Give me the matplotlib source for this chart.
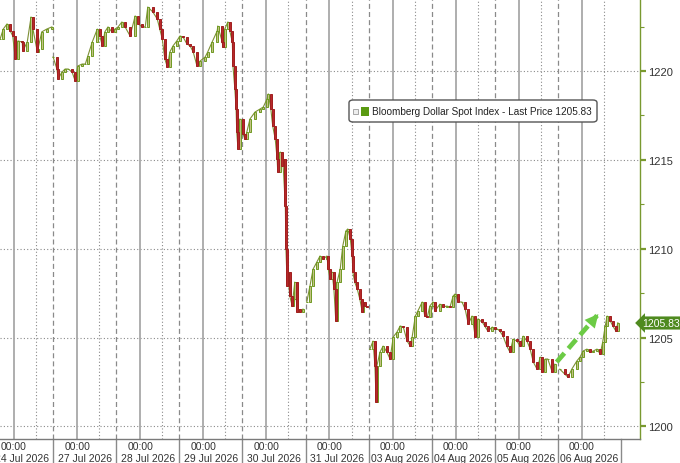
import matplotlib.pyplot as plt
from matplotlib.patches import FancyBboxPatch, Rectangle
from matplotlib.transforms import blended_transform_factory
import numpy as np

plt.rcParams['font.family'] = ['Liberation Sans', 'DejaVu Sans']

# trading-day index (0 = 24 Jul 00:00), one list of closes per session
s1_days = [-0.22, -0.17, -0.11, -0.06, -0.02, 0.02, 0.06, 0.13, 0.14, 0.21, 0.27, 0.30,
           0.37, 0.38, 0.44, 0.52, 0.60]
s1_close = [1221.80, 1222.36, 1222.65, 1222.25, 1221.97, 1220.68, 1221.69, 1221.63, 1221.13,
            1221.63, 1223.04, 1222.36, 1221.07, 1221.24, 1222.20, 1222.36, 1222.48]

s2_days = [0.62, 0.68, 0.70, 0.76, 0.81, 0.86, 0.92, 0.97, 1.01, 1.08, 1.13, 1.17, 1.24, 1.32,
           1.36, 1.40, 1.44, 1.49, 1.55, 1.60, 1.65, 1.71, 1.76, 1.84, 1.92, 1.97, 2.03, 2.08,
           2.12, 2.20, 2.27, 2.31, 2.35, 2.39, 2.43, 2.47, 2.52, 2.58, 2.63, 2.68, 2.74, 2.79,
           2.84, 2.90, 2.95, 3.03, 3.07, 3.14, 3.22, 3.23, 3.30, 3.31, 3.34, 3.39, 3.42, 3.46,
           3.47, 3.50, 3.52, 3.53, 3.55, 3.58, 3.63, 3.66, 3.69, 3.74, 3.82, 3.90, 3.95, 4.01,
           4.03, 4.07, 4.10, 4.14, 4.17, 4.18, 4.22, 4.25, 4.26, 4.30, 4.31, 4.33, 4.34, 4.37,
           4.41, 4.42, 4.45, 4.49, 4.50, 4.53, 4.58]
s2_close = [1220.79, 1220.11, 1219.55, 1219.94, 1220.11, 1220.11, 1219.94, 1219.44, 1220.28,
            1220.39, 1220.39, 1220.84, 1221.63, 1222.36, 1221.97, 1221.41, 1222.20, 1222.48,
            1222.20, 1222.36, 1222.48, 1222.76, 1222.48, 1221.97, 1223.10, 1222.65, 1222.48,
            1222.48, 1223.60, 1223.32, 1222.93, 1222.36, 1221.80, 1220.68, 1220.23, 1221.07,
            1221.41, 1221.69, 1221.97, 1221.91, 1221.52, 1221.41, 1221.07, 1220.28, 1220.56,
            1220.79, 1221.07, 1221.63, 1222.25, 1222.53, 1221.63, 1221.35, 1222.36, 1222.76,
            1222.25, 1221.63, 1220.28, 1218.99, 1217.86, 1216.57, 1215.61, 1217.30, 1216.45,
            1216.17, 1216.57, 1217.30, 1217.69, 1217.86, 1217.97, 1218.42, 1218.71, 1217.86,
            1216.90, 1216.17, 1215.05, 1214.32, 1215.44, 1214.65, 1215.05, 1212.40, 1209.98,
            1207.90, 1208.68, 1207.34, 1206.77, 1207.17, 1208.12, 1206.44, 1206.60, 1206.44,
            1206.60]

s3_days = [4.64, 4.69, 4.74, 4.80, 4.85, 4.90, 4.96, 4.98, 5.01, 5.04, 5.07, 5.10, 5.12, 5.17,
           5.21, 5.26, 5.29, 5.33, 5.36, 5.37, 5.40, 5.44, 5.48, 5.52, 5.53, 5.56, 5.59]
s3_close = [1207.00, 1207.90, 1208.85, 1209.25, 1209.59, 1209.42, 1209.59, 1208.85, 1208.29,
            1208.68, 1207.73, 1205.93, 1208.12, 1208.85, 1210.15, 1211.00, 1211.11, 1210.54,
            1209.59, 1208.68, 1208.12, 1207.73, 1207.17, 1206.44, 1207.00, 1206.77, 1206.72]

s4_days = [5.64, 5.69, 5.72, 5.74, 5.75, 5.80, 5.85, 5.91, 5.96, 6.01, 6.07, 6.12, 6.17, 6.23,
           6.28, 6.31, 6.36, 6.40, 6.47, 6.51, 6.55, 6.59, 6.64, 6.67, 6.75, 6.80, 6.86, 6.91,
           6.96, 6.99, 7.04, 7.10, 7.15, 7.20, 7.26, 7.31, 7.35, 7.42, 7.46, 7.51, 7.58, 7.62,
           7.66, 7.70, 7.75, 7.81, 7.86, 7.91, 7.97, 8.02, 8.07, 8.13, 8.18, 8.23, 8.29, 8.34,
           8.37, 8.42, 8.46, 8.53, 8.57]
s4_close = [1204.35, 1204.80, 1203.39, 1201.37, 1203.39, 1204.18, 1204.52, 1204.18, 1203.79,
            1205.03, 1205.31, 1205.65, 1205.59, 1204.80, 1204.52, 1205.03, 1206.21, 1206.49,
            1207.00, 1206.21, 1206.15, 1206.77, 1207.00, 1206.49, 1206.88, 1206.72, 1206.77,
            1206.72, 1207.34, 1207.45, 1207.00, 1207.00, 1206.60, 1205.76, 1206.21, 1205.03,
            1206.04, 1205.87, 1205.65, 1205.36, 1205.59, 1205.48, 1205.48, 1205.36, 1205.08,
            1204.52, 1204.18, 1204.91, 1204.80, 1204.52, 1205.08, 1204.80, 1204.35, 1203.62,
            1203.22, 1203.90, 1203.06, 1203.79, 1203.79, 1203.06, 1203.50]

s5_days = [8.65, 8.73, 8.78, 8.84, 8.92, 8.97, 9.02, 9.08, 9.13, 9.18, 9.24, 9.29, 9.33, 9.37,
           9.40, 9.45, 9.49, 9.54, 9.57]
s5_close = [1203.22, 1202.94, 1202.77, 1203.22, 1203.68, 1203.90, 1204.24, 1204.35, 1204.18,
            1204.24, 1204.35, 1204.07, 1204.75, 1205.65, 1206.21, 1205.93, 1205.65, 1205.36,
            1205.83]

last_price = 1205.83
day_labels = ['24 Jul 2026', '27 Jul 2026', '28 Jul 2026', '29 Jul 2026', '30 Jul 2026',
              '31 Jul 2026', '03 Aug 2026', '04 Aug 2026', '05 Aug 2026', '06 Aug 2026']
y_ticks = [1200, 1205, 1210, 1215, 1220]
arrow_from = (8.60, 1203.62)
arrow_to = (9.29, 1206.44)

UP_FACE, UP_EDGE = '#c3c185', '#6f9a22'
DOWN_FACE, DOWN_EDGE = '#b7282a', '#a01e1e'
AXIS_GREEN = '#79992f'
FS = 7.5

fig = plt.figure(figsize=(6.8, 4.64), dpi=100)
ax = fig.add_axes([0, 24 / 464, 640 / 680, 440 / 464])
ax.set_xlim(-0.222, 9.921)
ax.set_ylim(1199.29, 1224.05)

# grid
for y in y_ticks:
    ax.axhline(y, color='#8a8a8a', lw=0.8, ls=(0, (1, 2)), zorder=1)
for k in range(0, 10):
    ax.axvline(k, color='#a8a8a8', lw=1.3, zorder=1)
    ax.axvline(k + 0.35, color='#8a8a8a', lw=0.8, ls=(0, (1, 2)), zorder=1)
    if k < 9:
        ax.axvline(k + 0.62, color='#8a8a8a', lw=0.9, ls=(0, (4, 2.5)), zorder=1)


def draw_session(days, close):
    t = np.array(days)
    c = np.array(close)
    o = np.r_[c[0], c[:-1]]
    up = c >= o
    ax.plot(t, c, color='#7d8f35', lw=0.8, zorder=2)
    ax.bar(t[up], (c - o)[up], bottom=o[up], width=0.035, color=UP_FACE,
           edgecolor=UP_EDGE, lw=0.7, zorder=3)
    ax.bar(t[~up], (c - o)[~up], bottom=o[~up], width=0.035, color=DOWN_FACE,
           edgecolor=DOWN_EDGE, lw=0.7, zorder=3)


for d, c in [(s1_days, s1_close), (s2_days, s2_close), (s3_days, s3_close),
             (s4_days, s4_close), (s5_days, s5_close)]:
    draw_session(d, c)

# green dashed arrow
ax.plot([arrow_from[0], arrow_to[0] - 0.05], [arrow_from[1], arrow_to[1] - 0.2],
        color='#6ccb45', lw=3.4, ls=(0, (2.5, 1.3)), solid_capstyle='butt', zorder=4)
ax.annotate('', xy=arrow_to, xytext=(arrow_to[0] - 0.12, arrow_to[1] - 0.5),
            arrowprops=dict(arrowstyle='-|>', color='#6ccb45', lw=0, mutation_scale=24),
            zorder=5)

# axes styling
for s in ['left', 'top']:
    ax.spines[s].set_visible(False)
ax.spines['right'].set_color(AXIS_GREEN)
ax.spines['right'].set_linewidth(1.0)
ax.spines['bottom'].set_color('#7a7a7a')
ax.spines['bottom'].set_linewidth(1.0)
ax.yaxis.tick_right()
ax.set_yticks(y_ticks)
ax.set_yticks(np.arange(1202.5, 1224, 5), minor=True)
ax.tick_params(axis='y', which='major', length=4, width=1.6, color=AXIS_GREEN, pad=2,
               labelsize=FS + 0.5, labelcolor='#333333')
ax.tick_params(axis='y', which='minor', length=3, width=0.8, color=AXIS_GREEN)
ax.set_xticks([])

# x labels
trans = blended_transform_factory(ax.transData, ax.transAxes)
for k, lab in enumerate(day_labels):
    ax.text(k, -7.5 / 440, '00:00', transform=trans, ha='center', va='center',
            fontsize=FS, color='#333333', clip_on=False)
    ax.text(k + 0.12, -19.5 / 440, lab, transform=trans, ha='center', va='center',
            fontsize=FS, color='#333333', clip_on=False)
for k in range(0, 10):
    ax.plot([k + 0.62, k + 0.62], [0, -24 / 440], transform=trans, color='#8a8a8a',
            lw=1, clip_on=False)

# last price tag
fig.text(661 / 680, 1 - 324 / 464, f'{last_price:.2f}', ha='center', va='center',
         fontsize=FS, color='white',
         bbox=dict(boxstyle='larrow,pad=0.15', fc='#4f8a1f', ec='none'))

# legend box
fig.patches.append(FancyBboxPatch((349 / 680, 1 - 123 / 464), 248 / 680, 22 / 464,
                                  boxstyle='round,pad=0,rounding_size=0.006',
                                  transform=fig.transFigure, fc='white', ec='#555555',
                                  lw=1, zorder=6))
fig.patches.append(Rectangle((353 / 680, 1 - 115 / 464), 5 / 680, 5 / 464,
                             transform=fig.transFigure, fc='#eeeeee', ec='#999999',
                             lw=0.6, zorder=7))
fig.patches.append(Rectangle((361 / 680, 1 - 117 / 464), 8 / 680, 9 / 464,
                             transform=fig.transFigure, fc='#5a9a12', ec='none', zorder=7))
fig.text(372 / 680, 1 - 112 / 464, f'Bloomberg Dollar Spot Index - Last Price {last_price:.2f}',
         ha='left', va='center', fontsize=7.2, color='#222222', zorder=8)

fig.savefig('out.png', dpi=100)
